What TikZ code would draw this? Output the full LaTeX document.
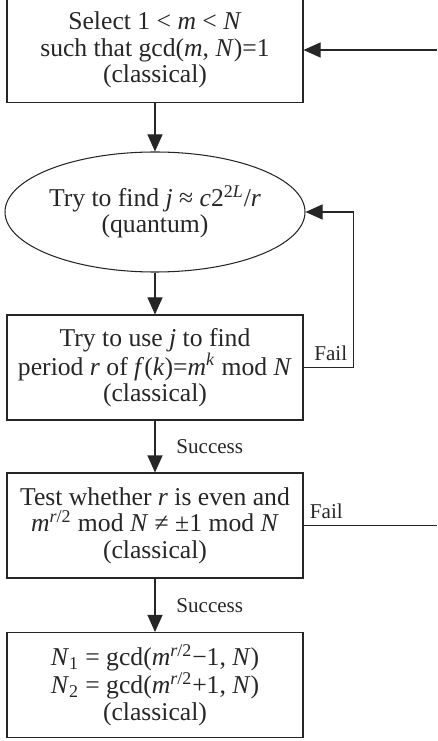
\documentclass[tikz,border=0pt]{standalone}
\usepackage{fontspec}
\setmainfont{Liberation Serif}
\usetikzlibrary{shapes.geometric,arrows.meta}

\begin{document}
\begin{tikzpicture}[>={Triangle[length=0.34cm,width=0.3cm]}, line width=0.6pt, color=black!85]
\useasboundingbox (0,0) rectangle (8.74,-14.82);
\tikzstyle{box} = [draw, rectangle, align=center, minimum width=5.92cm, minimum height=2.1cm, inner sep=0pt, font=\fontsize{14.6}{15}\selectfont];
\tikzstyle{oval} = [draw, ellipse, align=center, minimum width=6cm, minimum height=2.4cm, inner sep=0pt, font=\fontsize{14.6}{15}\selectfont];
\tikzstyle{lbl} = [font=\fontsize{12}{14}\selectfont];
\node[box] (select) at (3.1,-1.0) {Select 1 < \textit{m} < \textit{N}\\such that gcd(\textit{m}, \textit{N})=1\\(classical)};
\node[oval] (find) at (3.1,-4.24) {Try to find \textit{j} ≈ \textit{c}2\textsuperscript{2\textit{L}}/\textit{r}\\(quantum)};
\node[box] (period) at (3.1,-7.35) {Try to use \textit{j} to find\\period \textit{r} of \textit{f}(\textit{k})=\textit{m}\textsuperscript{\textit{k}} mod \textit{N}\\(classical)};
\node[box] (test) at (3.1,-10.51) {Test whether \textit{r} is even and\\\textit{m}\textsuperscript{\textit{r}/2} mod \textit{N} ≠ ±1 mod \textit{N}\\(classical)};
\node[box] (factors) at (3.1,-13.7) {\textit{N}\textsubscript{1} = gcd(\textit{m}\textsuperscript{\textit{r}/2}−1, \textit{N})\\\textit{N}\textsubscript{2} = gcd(\textit{m}\textsuperscript{\textit{r}/2}+1, \textit{N})\\(classical)};
\coordinate (failout) at (8.74,-10.51);
\coordinate (retry) at (8.74,-1.0);
\draw[->] (select) -- (find);
\draw[->] (find) -- (period);
\draw[->] (period.east) -- ++(1.0,0) node[lbl, above left] {Fail} |- (find.east);
\draw[->] (period) -- node[lbl, right=0.3cm] {Success} (test);
%
\draw (test.east) node[lbl, above right] {Fail} -- (failout);
\draw[->] (retry) -- (select);
\draw[->] (test) -- node[lbl, right=0.3cm] {Success} (factors);
\end{tikzpicture}
\end{document}
